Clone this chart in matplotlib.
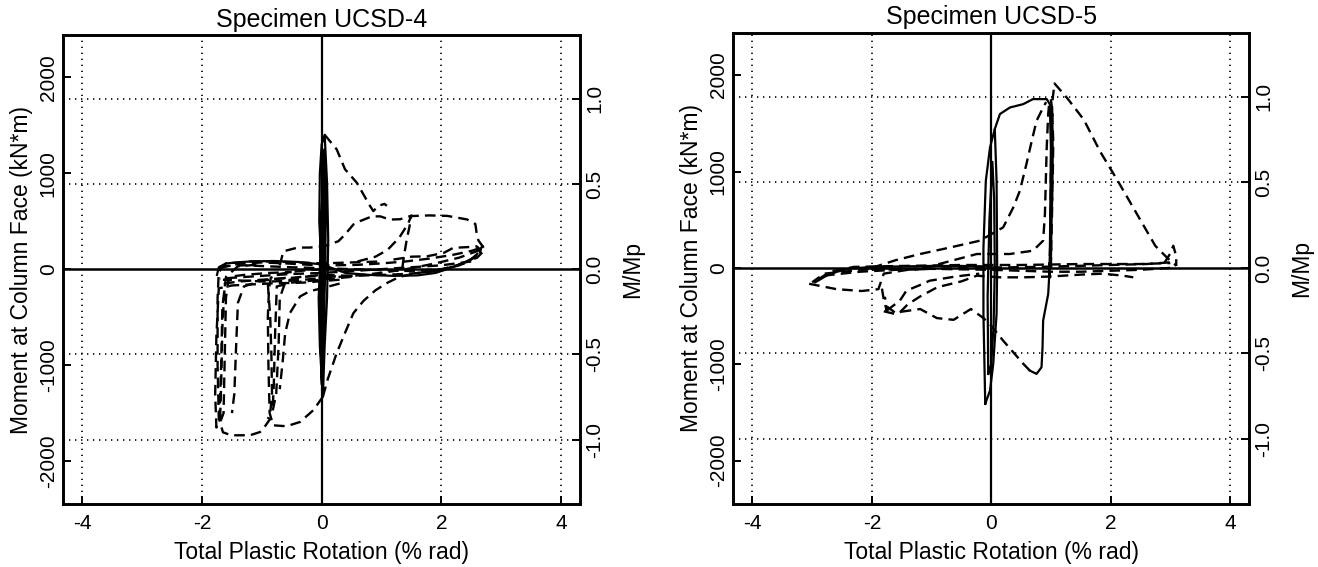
import matplotlib
matplotlib.use("Agg")
import matplotlib.pyplot as plt

plt.rcParams['font.family'] = ['Liberation Sans', 'DejaVu Sans']

# ---------------- data ----------------
MP = 1775.0                     # plastic moment (kN*m) used for M/Mp axis
x_ticks = [-4, -2, 0, 2, 4]
x_tick_labels = ['-4', '-2', '0', '2', '4']
m_ticks = [-2000, -1000, 0, 1000, 2000]
m_tick_labels = ['-2000', '-1000', '0', '1000', '2000']
r_ticks = [-1.0, -0.5, 0.0, 0.5, 1.0]
r_tick_labels = ['-1.0', '-0.5', '0.0', '0.5', '1.0']
x_grid = [-4, -2, 2, 4]
r_grid = [-1.0, -0.5, 0.5, 1.0]
titles = ['Specimen UCSD-4', 'Specimen UCSD-5']

# ---- UCSD-4 : solid (elastic cycles) ----
u4_solid_rot = [
    [0.00, -0.04, -0.03, 0.00, 0.05, 0.09, 0.11, 0.09, 0.05, 0.02, -0.03, -0.05, -0.03,
     0.00, 0.03, 0.05, 0.07, 0.06, 0.03, 0.00, -0.02, -0.01, 0.01, 0.03, 0.04, 0.03, 0.01, 0.00],
    [-1.75, -1.72, -1.6, -1.2, -0.8, -0.4, 0.0, 0.4, 0.8, 1.2, 1.6, 1.9, 2.1, 2.3, 2.5, 2.6],
]
u4_solid_mom = [
    [0, 500, 1000, 1300, 1400, 900, 300, -300, -800, -1330, -800, -300, 0,
     600, 1100, 1250, 700, 0, -700, -1200, -600, 0, 700, 1000, 500, -500, -1000, -400],
    [-60, 20, 60, 80, 85, 75, 50, -40, -60, -70, -65, -40, 0, 50, 100, 160],
]

# ---- UCSD-4 : dashed (inelastic cycles) ----
u4_dash_rot = [
    [0.05, 0.25, 0.39, 0.586, 0.81, 0.864, 0.95, 1.05, 1.09],
    [-0.7, -0.64, -0.4, -0.2, 0.05, 0.28, 0.39, 0.53, 0.64, 0.84, 0.98, 1.14, 1.31, 1.48, 1.8,
     2.1, 2.43, 2.57, 2.59, 2.62, 2.73, 2.6, 2.35, 2.1, 1.8, 1.4, 1.0, 0.5, 0.0],
    [0.6, 0.9, 1.1, 1.3, 1.45, 1.5, 1.47, 1.42, 1.38, 1.35],
    [0.02, 0.1, 0.25, 0.4, 0.53, 0.7, 0.9, 1.09, 1.3, 1.6, 2.0, 2.3, 2.55, 2.7],
    [1.2, 1.5, 1.76, 2.04, 2.2, 2.45, 2.59, 2.66, 2.62],
    [0.02, -0.14, -0.36, -0.59, -0.81, -0.87, -0.89, -0.9, -0.88, -0.85, -0.7, -0.4, 0.0],
    [-0.85, -0.95, -1.03, -1.2, -1.51, -1.65, -1.72, -1.74, -1.74, -1.72, -1.6, -1.2, -0.8,
     -0.4, 0.0, 0.5, 1.0],
    [0.5, 0.0, -0.5, -1.0, -1.4, -1.62, -1.66, -1.68, -1.7, -1.64, -1.62, -1.6, -1.55, -1.3,
     -0.9, -0.5],
    [0.3, -0.3, -0.9, -1.5, -1.72, -1.76, -1.78, -1.76, -1.71, -1.68, -1.66, -1.6, -1.4, -1.0],
    [-0.6, -1.0, -1.3, -1.4, -1.43, -1.46, -1.5],
    [0.5, 0.0, -0.5, -0.75, -0.78, -0.8, -0.82, -0.76, -0.72, -0.7, -0.6, -0.3, 0.2],
    [0.3, 0.0, -0.2, -0.36, -0.53, -0.61, -0.65, -0.7],
    [-1.7, -1.3, -0.9, -0.5, 0.0, 0.5, 1.0, 1.5, 2.0, 2.4, 2.6],
    [2.5, 2.0, 1.5, 1.0, 0.5, 0.0, -0.5, -1.0, -1.5, -1.7],
    [-1.72, -1.4, -1.0, -0.6, -0.2, 0.2, 0.6, 1.0, 1.4, 1.8, 2.2, 2.5, 2.65],
    [2.65, 2.3, 1.9, 1.5, 1.1, 0.7, 0.3, -0.1, -0.5, -0.9, -1.3, -1.65],
    [-0.9, -0.86, -0.84, -0.83, -0.86, -0.9],
]
u4_dash_mom = [
    [1400, 1250, 1041, 902, 657, 605, 660, 680, 660],
    [40, 186, 225, 225, 240, 291, 361, 465, 500, 550, 550, 517, 520, 553, 560,
     555, 518, 470, 379, 300, 204, 120, 60, 10, -30, -50, -60, -70, -80],
    [80, 130, 200, 330, 480, 560, 450, 300, 150, 20],
    [-1330, -1150, -877, -650, -459, -330, -220, -145, -80, -40, -10, 40, 120, 250],
    [100, 130, 134, 169, 222, 230, 238, 200, 120],
    [-1330, -1470, -1592, -1637, -1627, -1500, -1000, -500, -200, -90, -50, -20, 0],
    [-1550, -1640, -1697, -1731, -1731, -1700, -1550, -1000, -300, -30, 60, 80, 80,
     70, 60, 70, 80],
    [-70, -60, -90, -110, -130, -150, -600, -1200, -1600, -1500, -900, -300, -80, -60,
     -40, -30],
    [-110, -140, -150, -170, -200, -700, -1300, -1650, -1550, -1000, -400, -80, 30, 50],
    [-90, -120, -180, -350, -800, -1300, -1500],
    [-80, -110, -140, -180, -700, -1200, -1480, -1300, -800, -300, -120, -80, -60],
    [-150, -200, -230, -284, -457, -668, -950, -1250],
    [30, 40, 30, 20, 10, 0, -10, -20, 0, 60, 150],
    [80, 40, 20, 0, -20, -40, -50, -70, -90, -100],
    [10, 55, 70, 60, 45, 40, 45, 60, 80, 110, 150, 190, 220],
    [200, 120, 60, 10, -30, -60, -80, -100, -120, -130, -120, -110],
    [-150, -500, -900, -1300, -1500, -1560],
]

# ---- UCSD-5 : solid ----
u5_solid_rot = [
    [-0.10, -0.13, -0.13, -0.09, -0.02, 0.06, 0.09, 0.10, 0.09, 0.034, -0.02, -0.10],
    [-0.05, -0.06, -0.03, 0.02, 0.05, 0.06, 0.04, 0.0, -0.05],
    [0.06, 0.146, 0.313, 0.536, 0.70, 0.93, 0.982, 1.0, 0.99, 0.98, 0.955, 0.87, 0.86,
     0.843, 0.76, 0.648],
    [-2.95, -2.7, -2.4, -2.0, -1.5, -1.0, -0.5, 0.0],
]
u5_solid_mom = [
    [-1411, -478, 207, 904, 1250, 1440, 904, 5, -478, -997, -1273, -1411],
    [-1100, -300, 500, 1100, 700, 0, -600, -1000, -1100],
    [1440, 1596, 1664, 1699, 1751, 1751, 1699, 1250, 600, 5, -271, -547, -824,
     -1031, -1100, -1066],
    [-150, -60, -10, 10, 15, 20, 20, 15],
]

# ---- UCSD-5 : dashed ----
u5_dash_rot = [
    [0.648, 0.54, 0.37, 0.2, 0.0, -0.13, -0.34, -0.63, -0.91, -1.19, -1.61, -1.75],
    [-2.0, -1.6, -1.19, -0.7, -0.19, 0.2, 0.37, 0.48, 0.59, 0.68, 0.76, 0.87, 0.92],
    [-2.0, -1.19, -0.24, 0.31, 0.70, 0.87, 0.9, 0.93, 0.955, 0.97],
    [1.0, 1.02, 1.03, 1.02, 1.06, 1.27, 1.55, 1.83, 2.12, 2.47, 2.75, 2.96, 3.07, 3.1],
    [0.97, 1.0, 1.01, 1.02, 1.0, 0.99, 0.98, 0.97],
    [-3.05, -2.59, -2.17, -1.89, -1.85, -1.8, -1.4, -1.0],
    [-1.8, -1.6, -1.53, -1.4, -1.2, -0.9, -0.5, -0.24, 0.15, 0.54, 0.98, 1.5, 1.87, 2.21, 2.38],
    [-1.75, -1.53, -1.42, -1.2, -1.03, -0.6, -0.2],
    [-2.9, -2.7, -2.3, -1.5, -0.5, 0.5, 1.5, 2.5, 3.0],
    [3.0, 2.5, 2.0, 1.5, 1.0, 0.5, 0.0, -1.0, -2.0, -2.8, -3.0],
    [2.9, 3.0, 3.05, 3.1, 3.1],
    [-1.83, -1.8, -1.75, -1.78],
    [1.0, 1.01, 1.03, 1.04, 1.02, 1.0],
    [-2.8, -2.2, -1.6, -1.0, -0.4, 0.2, 0.8, 1.4, 2.0, 2.6, 3.05],
]
u5_dash_mom = [
    [-1066, -997, -876, -755, -600, -521, -427, -539, -521, -427, -464, -400],
    [0, 80, 144, 210, 282, 420, 627, 800, 1077, 1319, 1526, 1664, 1720],
    [-20, -12, 144, 144, 178, 282, 559, 1250, 1596, 1700],
    [0, 600, 1200, 1700, 1914, 1764, 1539, 1202, 903, 528, 228, 97, 41, 20],
    [-50, 400, 1000, 1600, 1000, 200, -100, -50],
    [-165, -221, -240, -221, -150, -60, -20, -10],
    [-450, -480, -461, -380, -300, -200, -140, -81, -98, -98, -90, -70, -60, -81, -98],
    [-443, -340, -236, -180, -133, -90, -60],
    [-120, -40, 10, 20, 30, 30, 40, 40, 50],
    [0, -20, -30, -40, -40, -30, -20, -10, -10, -60, -150],
    [50, 150, 230, 120, 20],
    [-215, -330, -443, -300],
    [100, 500, 900, 1300, 1650, 1750],
    [-80, -40, -20, -10, 0, 5, 10, 20, 30, 40, 60],
]

panels = [
    (titles[0], u4_solid_rot, u4_solid_mom, u4_dash_rot, u4_dash_mom),
    (titles[1], u5_solid_rot, u5_solid_mom, u5_dash_rot, u5_dash_mom),
]

# ---------------- figure ----------------
fig = plt.figure(figsize=(13.18, 5.67), dpi=100)
positions = [[0.0480, 0.1106, 0.3921, 0.8277], [0.5564, 0.1111, 0.3913, 0.8312]]
XLIM = (-4.32, 4.32)
YLIM = (-2450, 2440)

TICK_FS = 15
LABEL_FS = 16.5
TITLE_FS = 18

for pos, (title, s_rot, s_mom, d_rot, d_mom) in zip(positions, panels):
    ax = fig.add_axes(pos)
    ax.set_xlim(*XLIM)
    ax.set_ylim(*YLIM)

    # dotted grid
    for gx in x_grid:
        ax.axvline(gx, color='black', lw=1.2, ls=(0, (0.8, 2.8)), zorder=1)
    for gr in r_grid:
        ax.axhline(gr * MP, color='black', lw=1.2, ls=(0, (0.8, 2.8)), zorder=1)
    # zero axes
    ax.axhline(0, color='black', lw=1.8, zorder=2)
    ax.axvline(0, color='black', lw=1.6, zorder=2)

    for xr, ym in zip(d_rot, d_mom):
        ax.plot(xr, ym, color='black', lw=1.7, ls=(0, (4.5, 2.6)), zorder=3)
    for xr, ym in zip(s_rot, s_mom):
        ax.plot(xr, ym, color='black', lw=1.6, ls='-', zorder=4)

    ax.set_xticks(x_ticks)
    ax.set_xticklabels(x_tick_labels, fontsize=TICK_FS)
    ax.set_yticks(m_ticks)
    ax.set_yticklabels(m_tick_labels, fontsize=TICK_FS, rotation=90, va='center', ha='right')
    ax.tick_params(axis='both', direction='in', length=6, width=1.4)
    ax.tick_params(axis='x', pad=7)
    ax.tick_params(axis='y', pad=4)
    for sp in ax.spines.values():
        sp.set_linewidth(1.9)

    ax.set_xlabel('Total Plastic Rotation (% rad)', fontsize=LABEL_FS, labelpad=6)
    ax.set_ylabel('Moment at Column Face (kN*m)', fontsize=LABEL_FS, labelpad=4)
    ax.set_title(title, fontsize=TITLE_FS, pad=6)

    ax2 = ax.twinx()
    ax2.set_ylim(YLIM[0] / MP, YLIM[1] / MP)
    ax2.set_yticks(r_ticks)
    ax2.set_yticklabels(r_tick_labels, fontsize=TICK_FS, rotation=90, va='center', ha='left')
    ax2.tick_params(axis='y', direction='in', length=6, width=1.4, pad=4)
    ax2.set_ylabel('M/Mp', fontsize=LABEL_FS, labelpad=12)
    for sp in ax2.spines.values():
        sp.set_linewidth(1.9)

fig.savefig('out.png', dpi=100, facecolor='white')
